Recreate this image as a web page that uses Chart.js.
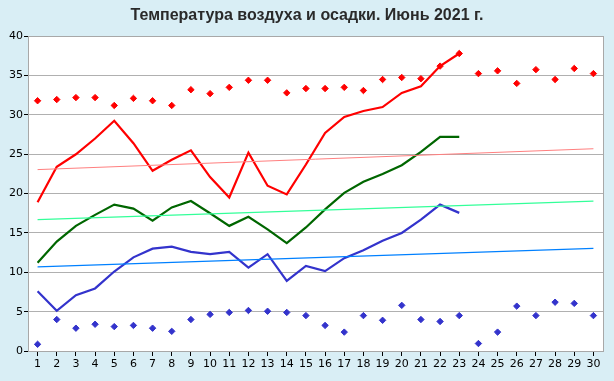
<!DOCTYPE html>
<html>
<head>
<meta charset="utf-8">
<script src="https://cdn.jsdelivr.net/npm/chart.js@4"></script>
<style>
  html, body { margin: 0; padding: 0; background: #d9eef5; }
  #wrap { width: 614px; height: 381px; }
</style>
</head>
<body>
<div id="wrap"><canvas id="c" width="614" height="381"></canvas></div>
<script>
const days = ['1','2','3','4','5','6','7','8','9','10','11','12','13','14','15','16','17','18','19','20','21','22','23','24','25','26','27','28','29','30'];
const yTicks = [0, 5, 10, 15, 20, 25, 30, 35, 40];

// Daily temperatures (days 1..23)
const tempMax  = [18.9, 23.4, 25.0, 27.0, 29.25, 26.4, 22.9, 24.3, 25.5, 22.1, 19.5, 25.2, 21.0, 19.9, 23.7, 27.7, 29.75, 30.5, 31.0, 32.8, 33.65, 36.2, 37.8];
const tempMean = [11.2, 13.9, 15.9, 17.3, 18.6, 18.1, 16.55, 18.25, 19.05, 17.5, 15.9, 17.05, 15.45, 13.7, 15.7, 18.0, 20.1, 21.5, 22.5, 23.6, 25.3, 27.2, 27.2];
const tempMin  = [7.6, 5.1, 7.1, 7.95, 10.1, 11.9, 13.0, 13.25, 12.6, 12.3, 12.6, 10.6, 12.3, 8.9, 10.8, 10.15, 11.8, 12.8, 14.0, 15.0, 16.7, 18.6, 17.55];

// Record values (days 1..30)
const recordMax = [31.8, 31.95, 32.2, 32.2, 31.2, 32.1, 31.8, 31.2, 33.2, 32.7, 33.5, 34.4, 34.4, 32.8, 33.35, 33.35, 33.5, 33.1, 34.5, 34.75, 34.6, 36.2, 37.8, 35.25, 35.6, 34.0, 35.75, 34.5, 35.9, 35.25];
const recordMin = [0.85, 4.0, 2.9, 3.4, 3.1, 3.25, 2.9, 2.5, 4.0, 4.65, 4.9, 5.15, 5.05, 4.9, 4.5, 3.25, 2.4, 4.5, 3.9, 5.8, 4.0, 3.75, 4.5, 0.95, 2.4, 5.7, 4.5, 6.2, 6.05, 4.5];

// Trend lines: value at day 1 and at day 30
const trendMax  = [23.05, 25.7];
const trendMean = [16.7, 19.05];
const trendMin  = [10.7, 13.05];

const trendPts = (t) => [{x: days[0], y: t[0]}, {x: days[days.length - 1], y: t[1]}];

const plotBg = {
  id: 'plotBg',
  beforeDraw(chart) {
    const {ctx, chartArea: a} = chart;
    ctx.save();
    ctx.fillStyle = '#ffffff';
    ctx.fillRect(a.left, a.top, a.right - a.left, a.bottom - a.top);
    ctx.restore();
  },
  afterDatasetsDraw(chart) {
    const {ctx, chartArea: a} = chart;
    ctx.save();
    ctx.strokeStyle = '#a8a8a8';
    ctx.lineWidth = 1;
    ctx.strokeRect(Math.round(a.left) + 0.5, Math.round(a.top) + 0.5, Math.round(a.right - a.left), Math.round(a.bottom - a.top));
    ctx.restore();
  }
};

const lineDs = (data, color, w) => ({
  type: 'line', data, borderColor: color, backgroundColor: color,
  borderWidth: w, pointRadius: 0, pointHoverRadius: 0, tension: 0, fill: false, spanGaps: false
});
const dotDs = (data, color) => ({
  type: 'line', data, showLine: false, borderColor: color, backgroundColor: color,
  pointStyle: 'rectRot', pointRadius: 3.2, pointBorderWidth: 1, pointHoverRadius: 3
});

new Chart(document.getElementById('c'), {
  type: 'line',
  data: {
    labels: days,
    datasets: [
      lineDs(trendPts(trendMax), '#ff7f7f', 1),
      lineDs(trendPts(trendMean), '#33ff99', 1.2),
      lineDs(trendPts(trendMin), '#0080ff', 1.2),
      dotDs(recordMax, '#ff0000'),
      dotDs(recordMin, '#3333cc'),
      lineDs(tempMax, '#ff0000', 2.2),
      lineDs(tempMean, '#006600', 2.2),
      lineDs(tempMin, '#3333cc', 2.2)
    ]
  },
  options: {
    responsive: false,
    animation: false,
    devicePixelRatio: 1,
    layout: { padding: { left: 0, right: 0, top: 0, bottom: 0 } },
    plugins: {
      legend: { display: false },
      tooltip: { enabled: false },
      title: {
        display: true,
        text: 'Температура воздуха и осадки. Июнь 2021 г.',
        color: '#2a2a2a',
        font: { family: '"Liberation Sans", Arial, sans-serif', size: 16, weight: 'bold' },
        padding: { top: 6, bottom: 11 }
      }
    },
    scales: {
      x: {
        type: 'category',
        offset: true,
        grid: { display: true, drawOnChartArea: false, drawTicks: true, tickLength: 5, color: '#000000', offset: false },
        border: { display: true, color: '#a8a8a8' },
        ticks: {
          color: '#000000', padding: 2, autoSkip: false, maxRotation: 0,
          font: { family: '"DejaVu Sans", sans-serif', size: 11 }
        },
        afterFit(s) { s.height = 30; }
      },
      y: {
        min: 0, max: 40,
        afterBuildTicks(s) { s.ticks = yTicks.map(v => ({ value: v })); },
        grid: { color: '#b0b0b0', tickLength: 4, drawTicks: true, tickColor: '#000000' },
        border: { display: true, color: '#a8a8a8' },
        ticks: {
          color: '#000000', padding: 1,
          font: { family: '"DejaVu Sans", sans-serif', size: 11 }
        },
        afterFit(s) { s.width = 28; }
      },
      yRight: {
        position: 'right',
        display: true,
        min: 0, max: 40,
        grid: { display: false, drawOnChartArea: false, drawTicks: false },
        border: { display: false },
        ticks: { display: false },
        afterFit(s) { s.width = 11; }
      }
    }
  },
  plugins: [plotBg]
});
</script>
</body>
</html>
